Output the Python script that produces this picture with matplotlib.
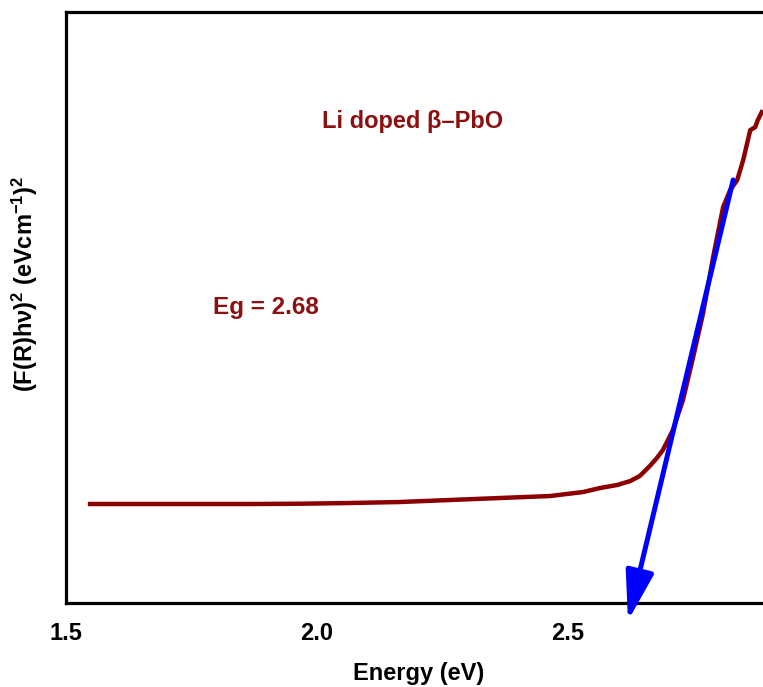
import numpy as np
import matplotlib.pyplot as plt

plt.rcParams['font.family'] = ['Liberation Sans', 'DejaVu Sans']
plt.rcParams['font.weight'] = 'bold'
plt.rcParams['mathtext.default'] = 'regular'

# Tauc plot: energy (eV) vs (F(R)hv)^2 (arb. units)
energy = [1.548, 1.667, 1.767, 1.867, 1.966, 2.066, 2.165, 2.265, 2.365, 2.464,
          2.530, 2.564, 2.598, 2.624, 2.643, 2.663, 2.677, 2.689, 2.709, 2.729,
          2.749, 2.769, 2.789, 2.809, 2.823, 2.837, 2.849, 2.863, 2.873, 2.878, 2.886]
absorb = [1.675, 1.675, 1.675, 1.675, 1.680, 1.692, 1.709, 1.743, 1.777, 1.810,
          1.878, 1.946, 1.997, 2.064, 2.149, 2.318, 2.453, 2.589, 2.927, 3.435,
          4.150, 4.900, 5.850, 6.701, 6.988, 7.157, 7.496, 8.003, 8.054, 8.173, 8.308]

# linear fit (tangent) drawn as an arrow down to the energy axis
fit_start = (2.829, 7.16)
fit_end = (2.6195, -0.3)

fig = plt.figure(figsize=(7.63, 6.87), dpi=100)
ax = fig.add_axes([0.0865, 0.1223, 0.93, 0.860])

ax.plot(energy, absorb, color='#8B0000', lw=3.2, solid_joinstyle='round')

ax.annotate('', xy=fit_end, xytext=fit_start, annotation_clip=False,
            arrowprops=dict(arrowstyle='-|>,head_length=0.42,head_width=0.12',
                            color='#0000FF', lw=3.6, mutation_scale=72,
                            shrinkA=0, shrinkB=0))

ax.text(2.19, 8.15, 'Li doped β–PbO', color='#8B1010', fontsize=17,
        fontweight='bold', ha='center', va='center')
ax.text(1.793, 5.0, 'Eg = 2.68', color='#8B1010', fontsize=17.5,
        fontweight='bold', ha='left', va='center')

ax.set_xlim(1.5, 1.5 + 0.93 * 763 / 502)
ax.set_ylim(0, 10)
ax.set_xticks([1.5, 2.0, 2.5])
ax.set_xticklabels(['1.5', '2.0', '2.5'])
ax.set_yticks([])
ax.tick_params(axis='x', length=0, pad=14, labelsize=17)

for side in ['left', 'bottom', 'top', 'right']:
    ax.spines[side].set_linewidth(2.3)

ax.set_xlabel('Energy (eV)', fontsize=17, fontweight='bold')
ax.xaxis.set_label_coords(0.4968, -0.1)
ax.set_ylabel(r'(F(R)h$\nu$)$^2$ (eVcm$^{-1}$)$^2$', fontsize=17, fontweight='bold')
ax.yaxis.set_label_coords(-0.036, 0.54)

fig.savefig('out.png', dpi=100)
